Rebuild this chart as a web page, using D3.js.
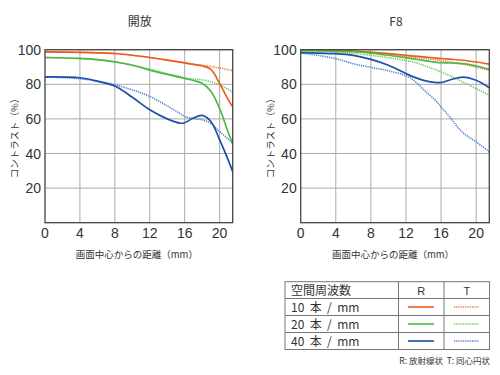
<!DOCTYPE html>
<html>
<head>
<meta charset="utf-8">
<script src="https://cdn.jsdelivr.net/npm/d3@7"></script>
<style>
  body { margin: 0; background: #fff; }
  text { font-family: "Liberation Sans", "Noto Sans CJK JP", sans-serif; fill: #333; }
  .jp { font-family: "Noto Sans CJK JP", sans-serif; }
</style>
</head>
<body>
<svg id="chart" width="500" height="375"></svg>
<script>
const xTicks = [0, 4, 8, 12, 16, 20];
const yTicks = [20, 40, 60, 80, 100];

// 開放
const openX    = [0, 4, 6, 8, 10, 12, 14, 15.5, 16, 17, 18, 19, 20, 21, 21.5];
const open10R  = [98.8, 98.5, 98.2, 97.8, 96.8, 95.5, 94, 92.8, 92.4, 91.5, 90.7, 88.6, 80.5, 71, 67];
const open10T  = [98.8, 98.5, 98.2, 97.8, 96.8, 95.5, 94, 92.8, 92.4, 91.6, 91, 90.3, 89.4, 88.4, 87.8];
const open20R  = [95.5, 95, 94.3, 93, 91, 88.2, 85.7, 84, 83.4, 82.2, 80.6, 76, 66, 52, 45.5];
const open20T  = [95.5, 94.8, 94.2, 93, 91.2, 88.8, 86.2, 84.5, 83.7, 83, 82.6, 81.5, 79.7, 77, 75.3];
const open40R  = [84.3, 83.8, 81.8, 79, 72.5, 65.3, 60, 57.5, 57.8, 60.5, 62, 58.5, 48, 36, 29.5];
const open40T  = [84.3, 83.2, 81.8, 79.7, 76.8, 73, 67.5, 63, 61.4, 60.2, 59.5, 57.3, 52.7, 48.3, 46];

// F8
const f8X      = [0, 2, 4, 6, 8, 10, 12, 13, 14, 15.5, 16, 17, 18.5, 20, 21.5];
const f810R    = [99.7, 99.7, 99.5, 99.2, 98.6, 97.7, 96.8, 96.3, 95.8, 95.1, 94.9, 94.5, 93.9, 92.9, 91.7];
const f810T    = [99.7, 99.7, 99.4, 99, 98.3, 97.3, 96.2, 95.6, 95, 94.1, 93.8, 93, 91.6, 90, 88];
const f820R    = [99.5, 99.4, 99.2, 98.8, 98, 96.8, 95.4, 94.6, 93.8, 92.7, 92.5, 92.3, 92, 90.6, 88.6];
const f820T    = [99.5, 99.2, 98.6, 97.8, 96.7, 95.4, 93.8, 92.6, 91, 88.2, 87.1, 85, 81.3, 77.5, 73.7];
const f840R    = [98.3, 98, 97.7, 96.7, 94.4, 91, 86.2, 84, 82.3, 81, 81, 82.5, 84.2, 82.3, 78];
const f840T    = [98, 96.7, 94.8, 91.9, 89.8, 87.8, 85, 81.8, 77, 70, 66.9, 61, 52, 46.7, 41];

const legendRows = ["10 本 / mm", "20 本 / mm", "40 本 / mm"];
const colorsR = ["#f05a1e", "#4cb845", "#1c50a5"];
const colorsT = ["#f07a45", "#70c860", "#4a80d0"];

const svg = d3.select("#chart");

function drawPanel(left, right, title, xs, seriesR, seriesT) {
  const x = d3.scaleLinear().domain([0, 21.5]).range([left, right]);
  const y = d3.scaleLinear().domain([0, 100]).range([222.7, 49.7]);
  const g = svg.append("g");

  g.selectAll(".gx").data(xTicks.slice(1)).join("line")
    .attr("x1", d => x(d)).attr("x2", d => x(d))
    .attr("y1", y(0)).attr("y2", y(100))
    .attr("stroke", "#aaa").attr("stroke-width", 1);
  g.selectAll(".gy").data(yTicks).join("line")
    .attr("x1", x(0)).attr("x2", x(21.5))
    .attr("y1", d => y(d)).attr("y2", d => y(d))
    .attr("stroke", "#aaa").attr("stroke-width", 1);

  const line = d3.line().x((d, i) => x(xs[i])).y(d => y(d)).curve(d3.curveCatmullRom);

  seriesT.forEach((s, i) => {
    g.append("path").datum(s).attr("d", line)
      .attr("fill", "none").attr("stroke", colorsT[i])
      .attr("stroke-width", 1.6).attr("stroke-dasharray", "1.2,1");
  });
  seriesR.forEach((s, i) => {
    g.append("path").datum(s).attr("d", line)
      .attr("fill", "none").attr("stroke", colorsR[i])
      .attr("stroke-width", 1.7);
  });

  g.append("rect")
    .attr("x", x(0)).attr("y", y(100))
    .attr("width", x(21.5) - x(0)).attr("height", y(0) - y(100))
    .attr("fill", "none").attr("stroke", "#444").attr("stroke-width", 1.3);

  g.selectAll(".xl").data(xTicks).join("text")
    .attr("x", d => x(d)).attr("y", 238)
    .attr("text-anchor", "middle").attr("font-size", 14)
    .text(d => d);
  g.selectAll(".yl").data(yTicks).join("text")
    .attr("x", x(0) - 4).attr("y", d => y(d) + 5)
    .attr("text-anchor", "end").attr("font-size", 14)
    .text(d => d);

  const cx = (left + right) / 2;
  g.append("text").attr("class", "jp")
    .attr("x", cx + 1).attr("y", 26)
    .attr("text-anchor", "middle").attr("font-size", 12)
    .text(title);
  g.append("text").attr("class", "jp")
    .attr("x", cx - 2).attr("y", 258)
    .attr("text-anchor", "middle").attr("font-size", 9.5)
    .text("画面中心からの距離（mm）");
  g.append("text").attr("class", "jp")
    .attr("transform", `translate(${left - 27},136) rotate(-90)`)
    .attr("text-anchor", "middle").attr("font-size", 9.5)
    .attr("fill", "#444")
    .text("コントラスト（%）");
}

drawPanel(45, 232.7, "開放", openX, [open10R, open20R, open40R], [open10T, open20T, open40T]);
drawPanel(300.7, 489.3, "F8", f8X, [f810R, f820R, f840R], [f810T, f820T, f840T]);

// legend table
const lg = svg.append("g");
const tx0 = 285, tx1 = 489.5, colR = 398.5, colT = 444;
const rowY = [281.7, 298.5, 315.5, 332.5, 349.5];
lg.append("rect").attr("x", tx0).attr("y", rowY[0])
  .attr("width", tx1 - tx0).attr("height", rowY[4] - rowY[0])
  .attr("fill", "none").attr("stroke", "#777").attr("stroke-width", 1);
rowY.slice(1, 4).forEach(yv => {
  lg.append("line").attr("x1", tx0).attr("x2", tx1).attr("y1", yv).attr("y2", yv)
    .attr("stroke", "#777");
});
[colR, colT].forEach(xv => {
  lg.append("line").attr("x1", xv).attr("x2", xv).attr("y1", rowY[0]).attr("y2", rowY[4])
    .attr("stroke", "#777");
});
lg.append("text").attr("class", "jp").attr("x", 291).attr("y", rowY[0] + 13)
  .attr("font-size", 12).text("空間周波数");
lg.append("text").attr("x", (colR + colT) / 2).attr("y", rowY[0] + 13)
  .attr("text-anchor", "middle").attr("font-size", 11).text("R");
lg.append("text").attr("x", (colT + tx1) / 2).attr("y", rowY[0] + 13)
  .attr("text-anchor", "middle").attr("font-size", 11).text("T");
legendRows.forEach((r, i) => {
  const top = rowY[i + 1];
  lg.append("text").attr("class", "jp").attr("x", 291).attr("y", top + 13)
    .attr("font-size", 12).attr("xml:space", "preserve").text(r.replace(/ /g, "  "));
  lg.append("line").attr("x1", 408).attr("x2", 434)
    .attr("y1", top + 8.5).attr("y2", top + 8.5)
    .attr("stroke", colorsR[i]).attr("stroke-width", 1.6);
  lg.append("line").attr("x1", 454).attr("x2", 479)
    .attr("y1", top + 8.5).attr("y2", top + 8.5)
    .attr("stroke", colorsT[i]).attr("stroke-width", 1.6).attr("stroke-dasharray", "1,0.8");
});
lg.append("text").attr("class", "jp").attr("x", 490).attr("y", 364)
  .attr("text-anchor", "end").attr("font-size", 8.5).attr("fill", "#444")
  .attr("xml:space", "preserve")
  .text("R: 放射線状  T: 同心円状");
</script>
</body>
</html>
